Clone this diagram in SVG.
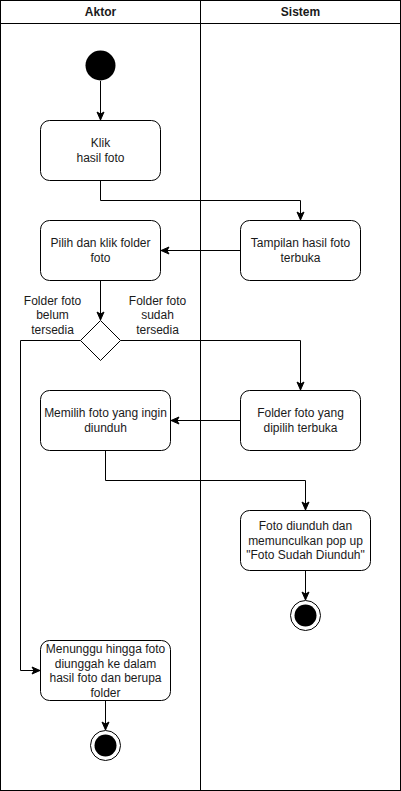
<svg xmlns="http://www.w3.org/2000/svg" width="401" height="791" viewBox="0 0 401 791">
<style>
.bg{fill:#fff}
.lane{fill:none;stroke:#000;stroke-width:1}
.node{fill:#fff;stroke:#000;stroke-width:1}
.t{font-family:"Liberation Sans",Arial,sans-serif;font-size:12px;fill:#1a1a1a;text-anchor:middle;dominant-baseline:central}
.h{font-weight:bold;font-size:12px}
.c{fill:none;stroke:#000;stroke-width:1}
</style>
<defs>
<marker id="arr" markerUnits="userSpaceOnUse" markerWidth="10" markerHeight="10" viewBox="0 0 10 10" refX="9" refY="5" orient="auto">
<path d="M1,1.5 L9,5 L1,8.5 L3,5 z" fill="#000" stroke="#000" stroke-width="1"/>
</marker>
</defs>
<rect class="bg" x="0" y="0" width="401" height="791"/>
<g id="lanes">
<rect class="lane" x="0.5" y="0.5" width="400" height="790"/>
<line class="lane" x1="0.5" y1="23.5" x2="400.5" y2="23.5"/>
<line class="lane" x1="200.5" y1="0.5" x2="200.5" y2="790.5"/>
<text class="t h" x="100.5" y="12">Aktor</text>
<text class="t h" x="300.5" y="12">Sistem</text>
</g>
<g id="connectors">
<path class="c" d="M100.5,81 L100.5,120" marker-end="url(#arr)"/>
<path class="c" d="M100.5,180.5 L100.5,200.5 L300.5,200.5 L300.5,220" marker-end="url(#arr)"/>
<path class="c" d="M240.5,250.5 L161,250.5" marker-end="url(#arr)"/>
<path class="c" d="M100.5,280.5 L100.5,320" marker-end="url(#arr)"/>
<path class="c" d="M80.5,340.5 L20.5,340.5 L20.5,670.5 L40,670.5" marker-end="url(#arr)"/>
<path class="c" d="M120.5,340.5 L300.5,340.5 L300.5,390" marker-end="url(#arr)"/>
<path class="c" d="M240.5,420.5 L171,420.5" marker-end="url(#arr)"/>
<path class="c" d="M105.5,450.5 L105.5,480.5 L305.5,480.5 L305.5,510" marker-end="url(#arr)"/>
<path class="c" d="M305.5,570.5 L305.5,600" marker-end="url(#arr)"/>
<path class="c" d="M105.5,700.5 L105.5,730" marker-end="url(#arr)"/>
<text class="t" x="52.5" y="300.5">Folder foto</text>
<text class="t" x="52.5" y="315">belum</text>
<text class="t" x="52.5" y="329.5">tersedia</text>
<text class="t" x="157.5" y="300.5">Folder foto</text>
<text class="t" x="157.5" y="315">sudah</text>
<text class="t" x="157.5" y="329.5">tersedia</text>
</g>
<g id="start">
<circle cx="100.5" cy="65.5" r="15" fill="#000"/>
</g>
<g id="klik">
<rect class="node" x="40.5" y="120.5" width="120" height="60" rx="9"/>
<text class="t" x="100.5" y="143">Klik</text>
<text class="t" x="100.5" y="157.5">hasil foto</text>
</g>
<g id="tampilan">
<rect class="node" x="240.5" y="220.5" width="120" height="60" rx="9"/>
<text class="t" x="300.5" y="243">Tampilan hasil foto</text>
<text class="t" x="300.5" y="257.5">terbuka</text>
</g>
<g id="pilih">
<rect class="node" x="40.5" y="220.5" width="120" height="60" rx="9"/>
<text class="t" x="100.5" y="243">Pilih dan klik folder</text>
<text class="t" x="100.5" y="257.5">foto</text>
</g>
<g id="decision">
<path class="node" d="M100.5,320.5 L120.5,340.5 L100.5,360.5 L80.5,340.5 z"/>
</g>
<g id="folderterbuka">
<rect class="node" x="240.5" y="390.5" width="120" height="60" rx="9"/>
<text class="t" x="300.5" y="413">Folder foto yang</text>
<text class="t" x="300.5" y="427.5">dipilih terbuka</text>
</g>
<g id="memilih">
<rect class="node" x="40.5" y="390.5" width="130" height="60" rx="9"/>
<text class="t" x="105.5" y="413">Memilih foto yang ingin</text>
<text class="t" x="105.5" y="427.5">diunduh</text>
</g>
<g id="diunduh">
<rect class="node" x="240.5" y="510.5" width="130" height="60" rx="9"/>
<text class="t" x="305.5" y="526">Foto diunduh dan</text>
<text class="t" x="305.5" y="540.5">memunculkan pop up</text>
<text class="t" x="305.5" y="555">"Foto Sudah Diunduh"</text>
</g>
<g id="end1">
<circle cx="305.5" cy="615.5" r="15" fill="#fff" stroke="#000" stroke-width="1"/>
<circle cx="305.5" cy="615.5" r="11" fill="#000"/>
</g>
<g id="menunggu">
<rect class="node" x="40.5" y="640.5" width="130" height="60" rx="9"/>
<text class="t" x="105.5" y="649">Menunggu hingga foto</text>
<text class="t" x="105.5" y="663.5">diunggah ke dalam</text>
<text class="t" x="105.5" y="678">hasil foto dan berupa</text>
<text class="t" x="105.5" y="692.5">folder</text>
</g>
<g id="end2">
<circle cx="105.5" cy="745.5" r="15" fill="#fff" stroke="#000" stroke-width="1"/>
<circle cx="105.5" cy="745.5" r="11" fill="#000"/>
</g>
</svg>
